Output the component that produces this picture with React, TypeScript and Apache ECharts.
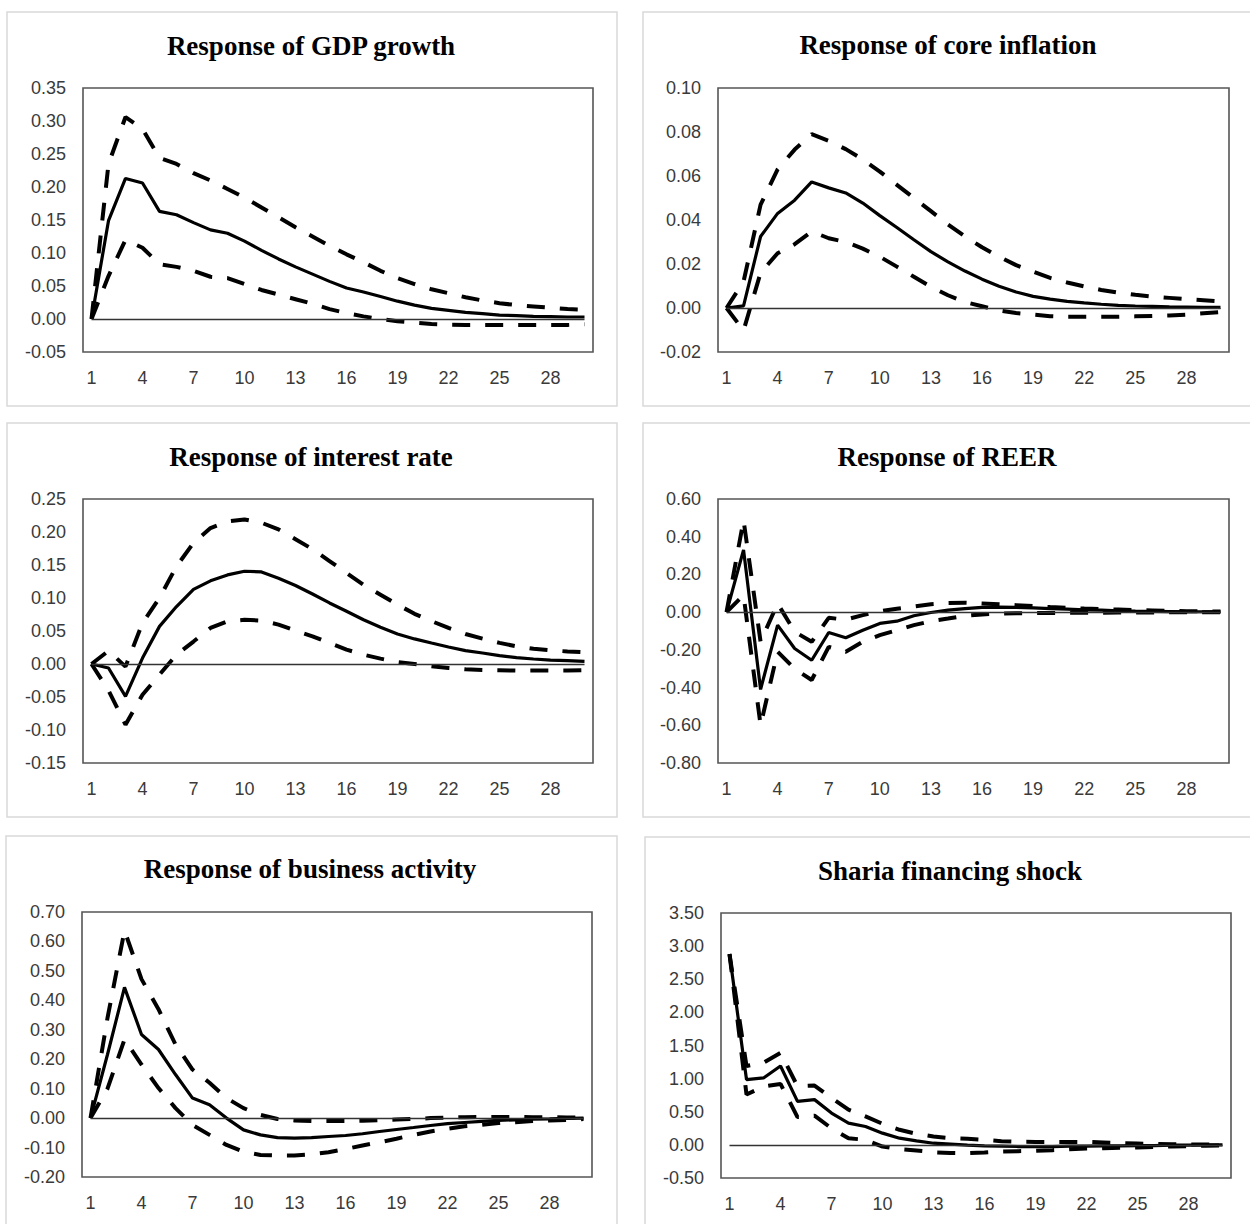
import React, { useEffect, useRef } from 'react';
import * as echarts from 'echarts';

const periods = ['1','2','3','4','5','6','7','8','9','10','11','12','13','14','15','16','17','18','19','20','21','22','23','24','25','26','27','28','29','30'];

const gdpResp = [0, 0.149, 0.213, 0.206, 0.163, 0.158, 0.146, 0.135, 0.130, 0.118, 0.104, 0.091, 0.079, 0.068, 0.057, 0.047, 0.041, 0.034, 0.027, 0.021, 0.016, 0.013, 0.010, 0.008, 0.006, 0.005, 0.004, 0.0035, 0.003, 0.003];
const gdpUpper = [0, 0.235, 0.306, 0.288, 0.244, 0.235, 0.221, 0.210, 0.197, 0.184, 0.169, 0.154, 0.139, 0.125, 0.111, 0.098, 0.086, 0.073, 0.062, 0.053, 0.045, 0.039, 0.033, 0.028, 0.024, 0.021, 0.019, 0.017, 0.015, 0.014];
const gdpLower = [0, 0.065, 0.120, 0.108, 0.083, 0.079, 0.073, 0.064, 0.062, 0.053, 0.044, 0.037, 0.030, 0.023, 0.015, 0.009, 0.004, 0.0, -0.0035, -0.0055, -0.0075, -0.0085, -0.009, -0.009, -0.009, -0.009, -0.009, -0.009, -0.009, -0.008];

const inflResp = [0, 0.001, 0.0325, 0.043, 0.049, 0.0573, 0.0546, 0.0523, 0.0477, 0.042, 0.0366, 0.031, 0.0256, 0.021, 0.0168, 0.0131, 0.0099, 0.0073, 0.0053, 0.004, 0.003, 0.0023, 0.0017, 0.0012, 0.0009, 0.0007, 0.0005, 0.0004, 0.0003, 0.0003];
const inflUpper = [0, 0.012, 0.047, 0.063, 0.072, 0.079, 0.076, 0.0722, 0.0675, 0.062, 0.056, 0.050, 0.044, 0.038, 0.0325, 0.0276, 0.0233, 0.0195, 0.0165, 0.0137, 0.0116, 0.0098, 0.0082, 0.007, 0.006, 0.0052, 0.0046, 0.004, 0.0035, 0.003];
const inflLower = [0, -0.0102, 0.016, 0.0249, 0.029, 0.0348, 0.0317, 0.030, 0.027, 0.0233, 0.0188, 0.0142, 0.0096, 0.0058, 0.0027, 0.0008, -0.0011, -0.0023, -0.003, -0.0037, -0.004, -0.004, -0.004, -0.004, -0.0038, -0.0036, -0.0034, -0.003, -0.0024, -0.0018];

const rateResp = [0, -0.006, -0.049, 0.009, 0.057, 0.087, 0.113, 0.126, 0.135, 0.1405, 0.1395, 0.130, 0.119, 0.106, 0.0925, 0.080, 0.067, 0.0556, 0.0455, 0.038, 0.0318, 0.0258, 0.0202, 0.0167, 0.0126, 0.0096, 0.0076, 0.006, 0.005, 0.004];
const rateUpper = [0, 0.02, -0.004, 0.062, 0.100, 0.148, 0.1835, 0.206, 0.216, 0.219, 0.214, 0.204, 0.189, 0.174, 0.156, 0.138, 0.120, 0.105, 0.090, 0.076, 0.065, 0.0546, 0.0455, 0.0384, 0.032, 0.0268, 0.023, 0.0207, 0.019, 0.0177];
const rateLower = [0, -0.04, -0.092, -0.0465, -0.016, 0.014, 0.034, 0.0546, 0.0647, 0.067, 0.0657, 0.0597, 0.0506, 0.042, 0.0318, 0.0217, 0.0142, 0.0081, 0.003, 0.0, -0.0035, -0.006, -0.008, -0.009, -0.0095, -0.01, -0.01, -0.01, -0.01, -0.0095];

const reerResp = [0, 0.33, -0.41, -0.069, -0.193, -0.255, -0.108, -0.136, -0.096, -0.06, -0.048, -0.019, -0.002, 0.011, 0.019, 0.025, 0.027, 0.025, 0.023, 0.019, 0.016, 0.012, 0.011, 0.007, 0.005, 0.004, 0.003, 0.002, 0.002, 0.002];
const reerUpper = [0, 0.488, -0.157, 0.046, -0.104, -0.157, -0.03, -0.04, -0.016, 0.005, 0.018, 0.03, 0.042, 0.048, 0.05, 0.046, 0.042, 0.037, 0.032, 0.027, 0.023, 0.019, 0.016, 0.014, 0.011, 0.009, 0.007, 0.005, 0.004, 0.003];
const reerLower = [0, 0.09, -0.60, -0.21, -0.30, -0.36, -0.184, -0.21, -0.157, -0.122, -0.096, -0.069, -0.048, -0.034, -0.019, -0.012, -0.008, -0.006, -0.005, -0.004, -0.004, -0.003, -0.003, -0.002, -0.002, -0.002, -0.001, -0.001, -0.001, -0.001];

const bizResp = [0, 0.216, 0.444, 0.284, 0.233, 0.148, 0.068, 0.0455, 0.0, -0.04, -0.057, -0.066, -0.068, -0.066, -0.0625, -0.059, -0.053, -0.0455, -0.0387, -0.032, -0.025, -0.019, -0.015, -0.011, -0.008, -0.0057, -0.0034, -0.0023, -0.001, 0.0];
const bizUpper = [0, 0.34, 0.637, 0.472, 0.37, 0.25, 0.165, 0.12, 0.068, 0.034, 0.011, -0.003, -0.008, -0.01, -0.01, -0.01, -0.009, -0.007, -0.005, -0.003, 0.0, 0.002, 0.003, 0.004, 0.004, 0.004, 0.003, 0.003, 0.002, 0.002];
const bizLower = [0, 0.1, 0.267, 0.182, 0.102, 0.034, -0.023, -0.057, -0.091, -0.114, -0.125, -0.127, -0.127, -0.123, -0.116, -0.105, -0.093, -0.082, -0.070, -0.057, -0.0455, -0.036, -0.028, -0.023, -0.017, -0.014, -0.010, -0.008, -0.006, -0.0034];

const shariaResp = [2.88, 0.986, 1.01, 1.19, 0.657, 0.683, 0.48, 0.329, 0.278, 0.177, 0.101, 0.061, 0.025, 0.01, -0.005, -0.015, -0.02, -0.025, -0.025, -0.025, -0.02, -0.02, -0.015, -0.015, -0.01, -0.01, -0.005, -0.005, 0.0, 0.0];
const shariaUpper = [2.88, 1.19, 1.24, 1.39, 0.885, 0.895, 0.708, 0.531, 0.43, 0.319, 0.228, 0.167, 0.126, 0.101, 0.091, 0.076, 0.056, 0.046, 0.045, 0.045, 0.045, 0.045, 0.035, 0.025, 0.02, 0.015, 0.01, 0.008, 0.005, 0.003];
const shariaLower = [2.88, 0.76, 0.88, 0.92, 0.42, 0.44, 0.25, 0.10, 0.076, -0.025, -0.066, -0.085, -0.111, -0.122, -0.126, -0.116, -0.10, -0.095, -0.09, -0.08, -0.065, -0.055, -0.05, -0.045, -0.04, -0.032, -0.025, -0.018, -0.012, -0.008];

const titles = ['Response of GDP growth', 'Response of core inflation', 'Response of interest rate', 'Response of REER', 'Response of business activity', 'Sharia financing shock'];
const yMins = [-0.05, -0.02, -0.15, -0.8, -0.2, -0.5];
const yMaxs = [0.35, 0.10, 0.25, 0.6, 0.7, 3.5];
const yIntervals = [0.05, 0.02, 0.05, 0.2, 0.1, 0.5];
const responses = [gdpResp, inflResp, rateResp, reerResp, bizResp, shariaResp];
const uppers = [gdpUpper, inflUpper, rateUpper, reerUpper, bizUpper, shariaUpper];
const lowers = [gdpLower, inflLower, rateLower, reerLower, bizLower, shariaLower];

const layout = [
  { grid: { left: 83, top: 88, width: 510, height: 264 }, tx: 311, ty: 46, box: [7, 12, 610, 394] },
  { grid: { left: 718, top: 88, width: 511, height: 264 }, tx: 948, ty: 45, box: [643, 12, 615, 394] },
  { grid: { left: 83, top: 499, width: 510, height: 264 }, tx: 311, ty: 457, box: [7, 423, 610, 394] },
  { grid: { left: 718, top: 499, width: 511, height: 264 }, tx: 947, ty: 457, box: [643, 423, 615, 394] },
  { grid: { left: 82, top: 912, width: 510, height: 265 }, tx: 310, ty: 869, box: [6, 836, 611, 400] },
  { grid: { left: 721, top: 913, width: 510, height: 265 }, tx: 950, ty: 871, box: [645, 837, 615, 400] },
];

const labelFont = '"Liberation Sans", Arial, sans-serif';
const titleFont = '"Liberation Serif", "Times New Roman", serif';

export default function App() {
  const ref = useRef<HTMLDivElement>(null);
  useEffect(() => {
    if (!ref.current) return;
    const chart = echarts.init(ref.current, undefined, { renderer: 'svg' });
    const grids: any[] = [];
    const xAxes: any[] = [];
    const yAxes: any[] = [];
    const series: any[] = [];
    const graphics: any[] = [];
    layout.forEach((l, i) => {
      grids.push({ ...l.grid, show: true, borderColor: '#555', borderWidth: 1.6, backgroundColor: 'transparent' });
      xAxes.push({
        type: 'category', gridIndex: i, data: periods, boundaryGap: true,
        axisLine: { show: false }, axisTick: { show: false }, splitLine: { show: false },
        axisLabel: { interval: 2, margin: 17, color: '#3a3a3a', fontSize: 18, fontFamily: labelFont },
      });
      yAxes.push({
        type: 'value', gridIndex: i, min: yMins[i], max: yMaxs[i], interval: yIntervals[i],
        axisLine: { show: false }, axisTick: { show: false }, splitLine: { show: false },
        axisLabel: { margin: 17, color: '#3a3a3a', fontSize: 18, fontFamily: labelFont, formatter: (v: number) => v.toFixed(2) },
      });
      series.push({
        name: titles[i] + ' lower', type: 'line', xAxisIndex: i, yAxisIndex: i, data: lowers[i],
        symbol: 'none', silent: true, z: 3,
        lineStyle: { color: '#000', width: 4, type: [18, 15] },
        markLine: {
          silent: true, symbol: ['none', 'none'], label: { show: false },
          lineStyle: { color: '#333', width: 1.3, type: 'solid' },
          data: [[{ coord: [0, 0] }, { coord: [29, 0] }]],
        },
      });
      series.push({
        name: titles[i] + ' upper', type: 'line', xAxisIndex: i, yAxisIndex: i, data: uppers[i],
        symbol: 'none', silent: true, z: 3,
        lineStyle: { color: '#000', width: 4, type: [18, 15] },
      });
      series.push({
        name: titles[i], type: 'line', xAxisIndex: i, yAxisIndex: i, data: responses[i],
        symbol: 'none', silent: true, z: 4,
        lineStyle: { color: '#000', width: 3.2, type: 'solid' },
      });
      graphics.push({
        type: 'rect', z: -10, silent: true,
        shape: { x: l.box[0], y: l.box[1], width: l.box[2], height: l.box[3] },
        style: { fill: '#fff', stroke: '#d9d9d9', lineWidth: 1.5 },
      });
      graphics.push({
        type: 'text', z: 10, silent: true, x: l.tx, y: l.ty,
        style: { text: titles[i], fill: '#000', font: 'bold 27px ' + titleFont, textAlign: 'center', textVerticalAlign: 'middle' },
      });
    });
    chart.setOption({
      animation: false,
      backgroundColor: '#fff',
      grid: grids,
      xAxis: xAxes,
      yAxis: yAxes,
      series,
      graphic: graphics,
    });
    return () => chart.dispose();
  }, []);
  return <div ref={ref} style={{ position: 'absolute', left: 0, top: 0, width: 1250, height: 1224, background: '#fff' }} />;
}
